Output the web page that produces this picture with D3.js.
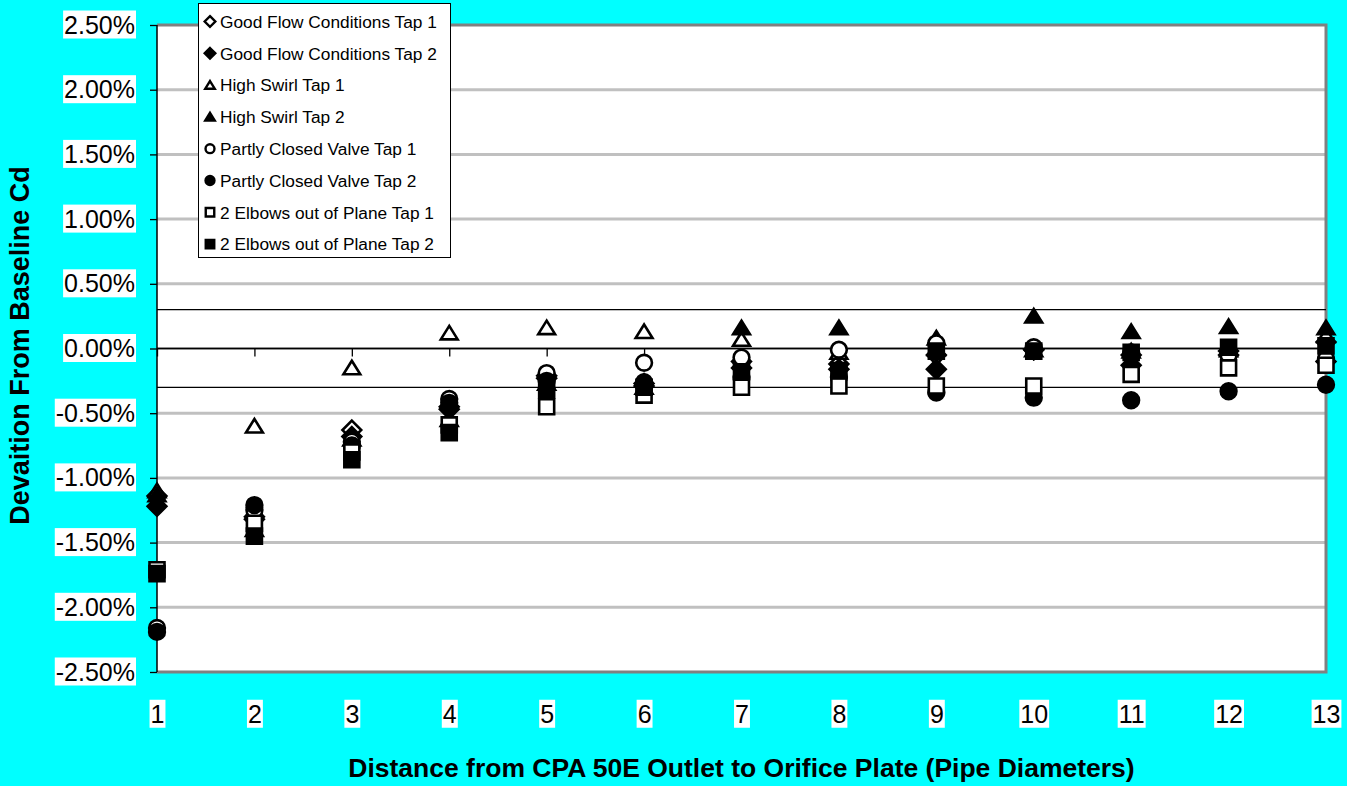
<!DOCTYPE html>
<meta charset="utf-8">
<style>
body { margin:0; background:#00ffff; }
text { font-family: Arial, "Liberation Sans", sans-serif; }
</style>
<script src="https://d3js.org/d3.v7.min.js"></script>
<body>
<script>

var width = 1347, height = 786

// distance in pipe diameters
var cats = [1,2,3,4,5,6,7,8,9,10,11,12,13]
var yTicks = [-2.5,-2,-1.5,-1,-0.5,0,0.5,1,1.5,2,2.5]
var limits = [0.3,-0.3]

// deviation from baseline Cd, in percent
var gf1  = [-1.14,-1.30,-0.63,-0.45,-0.21,-0.27,-0.10,-0.12,-0.05,-0.01,-0.05,-0.05,-0.10]
var gf2  = [-1.22,-1.32,-0.68,-0.47,-0.23,-0.29,-0.15,-0.16,-0.16,-0.01,-0.13,-0.02, 0.05]
var hs1  = [-1.10,-0.60,-0.15, 0.12, 0.16, 0.13, 0.07,-0.03, 0.00,-0.01,-0.02,-0.01, 0.10]
var hs2  = [-1.13,-1.40,-0.70,-0.55,-0.27,-0.30, 0.16, 0.16, 0.08, 0.25, 0.13, 0.17, 0.16]
var pcv1 = [-2.16,-1.25,-0.72,-0.39,-0.19,-0.11,-0.07,-0.01, 0.04, 0.01,-0.03,-0.05,-0.08]
var pcv2 = [-2.19,-1.21,-0.75,-0.42,-0.25,-0.26,-0.22,-0.22,-0.34,-0.38,-0.40,-0.33,-0.28]
var el1  = [-1.71,-1.35,-0.80,-0.59,-0.45,-0.36,-0.30,-0.29,-0.29,-0.29,-0.20,-0.15,-0.13]
var el2  = [-1.74,-1.45,-0.86,-0.65,-0.32,-0.30,-0.18,-0.17,-0.02,-0.02,-0.03, 0.01, 0.02]

var names = ["Good Flow Conditions Tap 1","Good Flow Conditions Tap 2","High Swirl Tap 1","High Swirl Tap 2",
  "Partly Closed Valve Tap 1","Partly Closed Valve Tap 2","2 Elbows out of Plane Tap 1","2 Elbows out of Plane Tap 2"]
var shapes = ["diamond","diamond","triangle","triangle","circle","circle","square","square"]
var filled = [false,true,false,true,false,true,false,true]
var values = [gf1,gf2,hs1,hs2,pcv1,pcv2,el1,el2]

var pL = 157, pR = 1326, pT = 25, pB = 672

var svg = d3.select("body").append("svg").attr("width",width).attr("height",height)

var x = d3.scalePoint().domain(cats).range([pL,pR])
var y = d3.scaleLinear().domain([-2.5,2.5]).range([pB,pT])

// plot area
svg.append("rect").attr("x",pL).attr("y",pT).attr("width",pR-pL).attr("height",pB-pT)
  .attr("fill","#fff")

// gridlines
svg.append("g").selectAll("line").data(yTicks.filter(d=>d>-2.5 && d<2.5)).enter().append("line")
  .attr("x1",pL).attr("x2",pR).attr("y1",d=>y(d)).attr("y2",d=>y(d))
  .attr("stroke","#c0c0c0").attr("stroke-width",3)

// border
svg.append("path").attr("d","M"+pL+","+pT+"H"+pR+"V"+pB+"H"+pL)
  .attr("fill","none").attr("stroke","#808080").attr("stroke-width",3)

// +/- 0.3% lines
svg.append("g").selectAll("line").data(limits).enter().append("line")
  .attr("x1",pL).attr("x2",pR).attr("y1",d=>y(d)).attr("y2",d=>y(d))
  .attr("stroke","#000").attr("stroke-width",1.3)

function addBoxes(g){
  g.selectAll(".tick text").each(function(){
    var b = this.getBBox()
    d3.select(this.parentNode).insert("rect","text")
      .attr("x",b.x-1).attr("y",b.y).attr("width",b.width+2).attr("height",b.height)
      .attr("fill","#fff")
  })
}

// y axis
var yAxis = svg.append("g").attr("transform","translate("+pL+",0)")
  .call(d3.axisLeft(y).tickValues(yTicks).tickSize(7).tickPadding(15).tickFormat(d=>d.toFixed(2)+"%"))
yAxis.select(".domain").attr("stroke","#000").attr("stroke-width",1.5).attr("d","M0,"+pT+"V"+pB)
yAxis.selectAll(".tick line").attr("stroke","#000").attr("stroke-width",1.3)
yAxis.selectAll("text").style("font-size","25px").attr("fill","#000")
addBoxes(yAxis)

// zero line with ticks
var zAxis = svg.append("g").attr("transform","translate(0,"+y(0)+")")
  .call(d3.axisBottom(x).tickSize(8).tickFormat(""))
zAxis.select(".domain").attr("stroke","#000").attr("stroke-width",1.3).attr("d","M"+pL+",0H"+pR)
zAxis.selectAll(".tick line").attr("stroke","#000").attr("stroke-width",1.3)

// x labels
var xAxis = svg.append("g").attr("transform","translate(0,"+pB+")")
  .call(d3.axisBottom(x).tickSize(0).tickPadding(33))
xAxis.select(".domain").remove()
xAxis.selectAll("text").style("font-size","25px").attr("fill","#000")
addBoxes(xAxis)

// markers
function marker(shape, s){
  var h = s/2
  if(shape=="square") return "M"+(-h)+","+(-h)+"H"+h+"V"+h+"H"+(-h)+"Z"
  if(shape=="diamond") return "M0,"+(-h*1.25)+"L"+(h*1.25)+",0L0,"+(h*1.25)+"L"+(-h*1.25)+",0Z"
  if(shape=="triangle") return "M0,"+(-h*0.95)+"L"+(h*1.12)+","+(h*0.85)+"L"+(-h*1.12)+","+(h*0.85)+"Z"
  return "M"+(-h*1.05)+",0A"+(h*1.05)+","+(h*1.05)+" 0 1,1 "+(h*1.05)+",0A"+(h*1.05)+","+(h*1.05)+" 0 1,1 "+(-h*1.05)+",0Z"
}

values.forEach((vals,i)=>{
  svg.append("g").selectAll("path").data(vals).enter().append("path")
    .attr("transform",(d,j)=>"translate("+x(cats[j])+","+y(d)+")")
    .attr("d",marker(shapes[i],15))
    .attr("fill",filled[i]?"#000":"#fff")
    .attr("stroke","#000").attr("stroke-width",2.6)
})

// legend
var lg = svg.append("g").attr("transform","translate(198,3)")
lg.append("rect").attr("x",0.5).attr("y",0.5).attr("width",252).attr("height",254)
  .attr("fill","#fff").attr("stroke","#000").attr("stroke-width",1)
names.forEach((n,i)=>{
  var yy = 18.5 + i*31.8
  lg.append("path").attr("transform","translate(12,"+yy+")").attr("d",marker(shapes[i],8.5))
    .attr("fill",filled[i]?"#000":"#fff").attr("stroke","#000").attr("stroke-width",2.4)
  lg.append("text").attr("x",22).attr("y",yy).attr("dy","0.36em").style("font-size","17.3px").text(n)
})

// titles
svg.append("text").attr("x",(pL+pR)/2).attr("y",777).attr("text-anchor","middle")
  .style("font-size","26.5px").style("font-weight","bold")
  .text("Distance from CPA 50E Outlet to Orifice Plate (Pipe Diameters)")
svg.append("text").attr("transform","translate(29,"+((pT+pB)/2-3)+") rotate(-90)").attr("text-anchor","middle")
  .style("font-size","27px").style("font-weight","bold")
  .text("Devaition From Baseline Cd")

</script>
